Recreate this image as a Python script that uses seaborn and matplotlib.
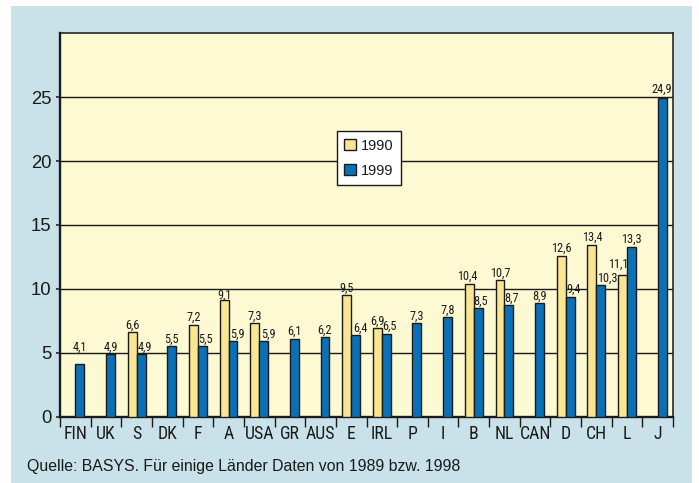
import numpy as np
import pandas as pd
import matplotlib
matplotlib.use("Agg")
import matplotlib.pyplot as plt
from matplotlib import font_manager
from matplotlib.patches import Rectangle
import seaborn as sns

# ---- data -------------------------------------------------------------
countries = ["FIN", "UK", "S", "DK", "F", "A", "USA", "GR", "AUS", "E",
             "IRL", "P", "I", "B", "NL", "CAN", "D", "CH", "L", "J"]
values_1990 = [np.nan, np.nan, 6.6, np.nan, 7.2, 9.1, 7.3, np.nan, np.nan, 9.5,
               6.9, np.nan, np.nan, 10.4, 10.7, np.nan, 12.6, 13.4, 11.1, np.nan]
values_1999 = [4.1, 4.9, 4.9, 5.5, 5.5, 5.9, 5.9, 6.1, 6.2, 6.4,
               6.5, 7.3, 7.8, 8.5, 8.7, 8.9, 9.4, 10.3, 13.3, 24.9]
years = ["1990", "1999"]
y_ticks = [0, 5, 10, 15, 20, 25]
source_note = "Quelle: BASYS. Für einige Länder Daten von 1989 bzw. 1998"

# ---- style ------------------------------------------------------------
panel_color = "#c9e2e9"
face_color = "#fdf9d3"
bar_colors = {"1990": "#f9e592", "1999": "#0a70b7"}
ink = "#1a1a1a"

sns.set_theme(style="white")
installed = {f.name for f in font_manager.fontManager.ttflist}
regular = "Liberation Sans" if "Liberation Sans" in installed else "DejaVu Sans"
plt.rcParams["font.family"] = [regular, "DejaVu Sans"]


def find_condensed():
    """Pick an upright, regular-weight condensed sans face if one is installed."""
    prefs = ["liberationsansnarrow", "robotocondensed", "notosanscondensed",
             "dejavusanscondensed", "opensanscondensed", "condensed", "narrow"]
    pool = []
    for f in font_manager.fontManager.ttflist:
        key = f.fname.lower().replace("-", "").replace("_", "").replace(" ", "")
        if f.style != "normal":
            continue
        if f.weight not in (400, "normal", "regular"):
            continue
        if "bold" in key or "italic" in key or "light" in key or "medium" in key \
                or "semi" in key or "extra" in key or "black" in key or "thin" in key:
            continue
        for rank, p in enumerate(prefs):
            if p in key or (p in ("condensed", "narrow") and f.stretch in
                            ("condensed", "semi-condensed", "narrow")):
                pool.append((rank, f.fname))
                break
    if pool:
        pool.sort()
        return pool[0][1]
    return None


cond_file = find_condensed()


def cond_font(size):
    if cond_file:
        return font_manager.FontProperties(fname=cond_file, size=size)
    return font_manager.FontProperties(family="DejaVu Sans", size=size * 0.85)


df = pd.DataFrame({
    "land": countries * 2,
    "jahr": [years[0]] * len(countries) + [years[1]] * len(countries),
    "wert": values_1990 + values_1999,
})

fig = plt.figure(figsize=(6.99, 4.83), dpi=100, facecolor="white")
fig.patches.append(Rectangle((11 / 699, 0), 681 / 699, 477 / 483,
                             transform=fig.transFigure, facecolor=panel_color,
                             edgecolor="none", zorder=-10))
ax = fig.add_axes([60 / 699, 66.3 / 483, 613 / 699, 383.5 / 483])
ax.set_facecolor(face_color)

sns.barplot(data=df, x="land", y="wert", hue="jahr", order=countries,
            hue_order=years, palette=bar_colors, width=0.58, gap=0,
            edgecolor=ink, linewidth=1.0, saturation=1, errorbar=None,
            legend=False, ax=ax, zorder=3)

ax.set_ylim(0, 30)
ax.set_xlim(-0.5, len(countries) - 0.5)
ax.set_yticks(y_ticks)
ax.set_xlabel("")
ax.set_ylabel("")
ax.set_axisbelow(True)
ax.yaxis.grid(True, color=ink, linewidth=1.0)
ax.xaxis.grid(False)

for side in ["left", "bottom"]:
    ax.spines[side].set_linewidth(1.7)
for side in ["top", "right"]:
    ax.spines[side].set_linewidth(1.1)
for sp in ax.spines.values():
    sp.set_color(ink)
    sp.set_visible(True)

ax.tick_params(axis="y", which="major", direction="out", length=3, width=1.1,
               color=ink, pad=3.3, labelsize=13.3, labelcolor=ink, left=True)

ax.set_xticks(np.arange(len(countries)))
ax.set_xticklabels(countries)
ax.set_xticks(np.arange(len(countries) + 1) - 0.5, minor=True)
ax.tick_params(axis="x", which="major", length=0, pad=6.0, labelcolor=ink,
               bottom=True)
ax.tick_params(axis="x", which="minor", direction="out", length=7.5, width=1.0,
               color=ink, bottom=True)
for lab in ax.get_xticklabels():
    lab.set_fontproperties(cond_font(12.8))

# value labels above each bar (pixel nudges where labels sit off-centre)
nudges = {
    ("FIN", "1999"): (0, 10.5), ("S", "1999"): (4, 0), ("F", "1999"): (3.5, 0),
    ("A", "1990"): (0, -1.5), ("A", "1999"): (4.5, 0), ("USA", "1999"): (4.5, 0),
    ("E", "1999"): (5, 0), ("IRL", "1999"): (3.5, 0), ("B", "1990"): (-2, 0),
    ("B", "1999"): (2.5, 0), ("NL", "1999"): (3, 0), ("D", "1999"): (3, 0),
    ("CH", "1990"): (0, 1.5), ("CH", "1999"): (6, 0), ("L", "1990"): (-4.5, 3.5),
    ("J", "1999"): (0, 2.5),
}
for year, container in zip(years, ax.containers):
    for bar in container:
        h = bar.get_height()
        if not np.isfinite(h) or h <= 0:
            continue
        cx = bar.get_x() + bar.get_width() / 2
        land = countries[int(round(cx))]
        dx, dy = nudges.get((land, year), (0, 0))
        ax.annotate(f"{h:.1f}".replace(".", ","), (cx, h),
                    xytext=(dx, 3.5 + dy), textcoords="offset pixels",
                    ha="center", va="baseline", fontproperties=cond_font(8.8),
                    color=ink, zorder=5)

handles = [Rectangle((0, 0), 1, 1, facecolor=bar_colors[y], edgecolor=ink,
                     linewidth=1.0) for y in years]
leg = ax.legend(handles, years, loc="upper left", bbox_to_anchor=(0.452, 0.744),
                borderaxespad=0, frameon=True, fancybox=False, shadow=False,
                fontsize=10.5, handlelength=0.8, handleheight=0.8,
                handletextpad=0.35, labelspacing=0.75, borderpad=0.5)
leg.get_frame().set_edgecolor(ink)
leg.get_frame().set_linewidth(1.0)
leg.get_frame().set_facecolor("white")
leg.get_frame().set_alpha(1)
leg.set_zorder(6)
for t in leg.get_texts():
    t.set_color(ink)

fig.text(27 / 699, 12 / 483, source_note, ha="left", va="baseline",
         fontsize=11.4, color=ink, fontfamily=[regular, "DejaVu Sans"])

fig.savefig("out.png", dpi=100, facecolor="white")
